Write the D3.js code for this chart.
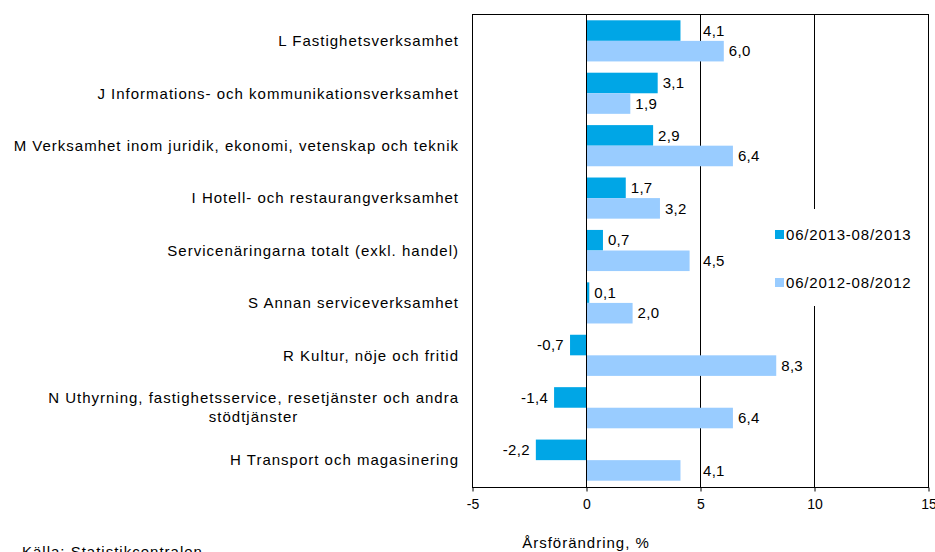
<!DOCTYPE html>
<html><head><meta charset="utf-8">
<script src="https://cdn.jsdelivr.net/npm/d3@7"></script>
<style>
html,body{margin:0;padding:0;background:#fff;}
svg{display:block;font-family:"Liberation Sans",Arial,sans-serif;}
</style></head>
<body>
<svg id="chart" width="935" height="552"></svg>
<script>
const categories = [
  "L Fastighetsverksamhet",
  "J Informations- och kommunikationsverksamhet",
  "M Verksamhet inom juridik, ekonomi, vetenskap och teknik",
  "I Hotell- och restaurangverksamhet",
  "Servicenäringarna totalt (exkl. handel)",
  "S Annan serviceverksamhet",
  "R Kultur, nöje och fritid",
  "N Uthyrning, fastighetsservice, resetjänster och andra|stödtjänster",
  "H Transport och magasinering"
];
const seriesNames = ["06/2013-08/2013", "06/2012-08/2012"];
const values2013 = [4.1, 3.1, 2.9, 1.7, 0.7, 0.1, -0.7, -1.4, -2.2];
const values2012 = [6.0, 1.9, 6.4, 3.2, 4.5, 2.0, 8.3, 6.4, 4.1];
const xTicks = [-5, 0, 5, 10, 15];
const gridValues = [0, 5, 10];
const colors = ["#00A6E6", "#99CCFF"];
const axisTitle = "Årsförändring, %";
const sourceText = "Källa: Statistikcentralen";

const svg = d3.select("#chart");
const L = 472, R = 928, T = 14, B = 487;

const x = d3.scaleLinear().domain([-5, 15]).range([L, R]);
const y = d3.scaleBand().domain(categories).range([T, B]).paddingInner(0.215).paddingOuter(0.12);
const ySub = d3.scaleBand().domain([0, 1]).range([0, y.bandwidth()]);

// gridlines
svg.append("g").selectAll("line").data(gridValues).join("line")
  .attr("x1", d => x(d) + 0.5).attr("x2", d => x(d) + 0.5)
  .attr("y1", T).attr("y2", B)
  .attr("stroke", "#000").attr("stroke-width", 1);

// bars
const series = [values2013, values2012];
const rows = categories.map((c, i) => ({c, vals: series.map(s => s[i])}));
const g = svg.append("g");
rows.forEach(r => {
  r.vals.forEach((v, k) => {
    g.append("rect")
      .attr("x", x(Math.min(0, v)) + (v >= 0 ? 1 : 0))
      .attr("y", y(r.c) + ySub(k))
      .attr("width", Math.abs(x(v) - x(0)))
      .attr("height", ySub.bandwidth())
      .attr("fill", colors[k]);
  });
});

// value labels
const fmt = v => d3.format(".1f")(v).replace(".", ",").replace("−", "-");
rows.forEach(r => {
  r.vals.forEach((v, k) => {
    const cy = y(r.c) + ySub(k) + ySub.bandwidth() / 2;
    const t = g.append("text")
      .attr("y", cy).attr("dy", "0.35em")
      .attr("font-size", 15).attr("letter-spacing", 0.3)
      .attr("fill", "#000").text(fmt(v));
    if (v >= 0) {
      let lx = x(v) + 6;
      const w = t.node().getComputedTextLength();
      gridValues.forEach(gv => {
        const gx = x(gv);
        if (gv > 0 && lx < gx + 2 && lx + w > gx - 1) lx = gx + 3;
      });
      t.attr("x", lx).attr("text-anchor", "start");
    } else {
      t.attr("x", x(v) - 6).attr("text-anchor", "end");
    }
  });
});

// frame
svg.append("rect").attr("x", L + 0.5).attr("y", T + 0.5)
  .attr("width", R - L).attr("height", B - T)
  .attr("fill", "none").attr("stroke", "#000").attr("stroke-width", 1);

// axis
const axis = svg.append("g").attr("transform", `translate(0.5,${B + 0.5})`)
  .call(d3.axisBottom(x).tickValues(xTicks).tickSize(4).tickPadding(8).tickFormat(d => String(d)));
axis.select(".domain").remove();
axis.selectAll("line").attr("stroke", "#000");
axis.selectAll("text").attr("font-size", 14).attr("font-family", '"Liberation Sans",Arial,sans-serif').attr("fill", "#000");

// axis title
svg.append("text").attr("x", x(0)).attr("y", 548).attr("text-anchor", "middle")
  .attr("font-size", 15).attr("letter-spacing", 1).text(axisTitle);

// source
svg.append("text").attr("x", 22).attr("y", 557)
  .attr("font-size", 15).attr("letter-spacing", 1).text(sourceText);

// category labels
const labelRight = 459;
categories.forEach(c => {
  const lines = c.split("|");
  const cy = y(c) + y.bandwidth() / 2;
  const lh = 19;
  const tg = svg.append("g");
  const texts = lines.map((ln, i) => tg.append("text")
    .attr("y", cy + (i - (lines.length - 1) / 2) * lh).attr("dy", "0.35em")
    .attr("font-size", 15).attr("letter-spacing", 1).attr("fill", "#000").text(ln));
  const widths = texts.map(t => t.node().getComputedTextLength());
  const mw = d3.max(widths);
  texts.forEach(t => t.attr("x", labelRight - mw / 2).attr("text-anchor", "middle"));
});

// legend
const lg = svg.append("g");
lg.append("rect").attr("x", 770).attr("y", 209).attr("width", 156).attr("height", 97).attr("fill", "#fff");
seriesNames.forEach((n, k) => {
  const ly = 235 + k * 48;
  lg.append("rect").attr("x", 775).attr("y", ly - 5).attr("width", 9).attr("height", 9).attr("fill", colors[k]);
  lg.append("text").attr("x", 786).attr("y", ly).attr("dy", "0.35em")
    .attr("font-size", 15).attr("letter-spacing", 0.8).text(n);
});
</script>
</body></html>
